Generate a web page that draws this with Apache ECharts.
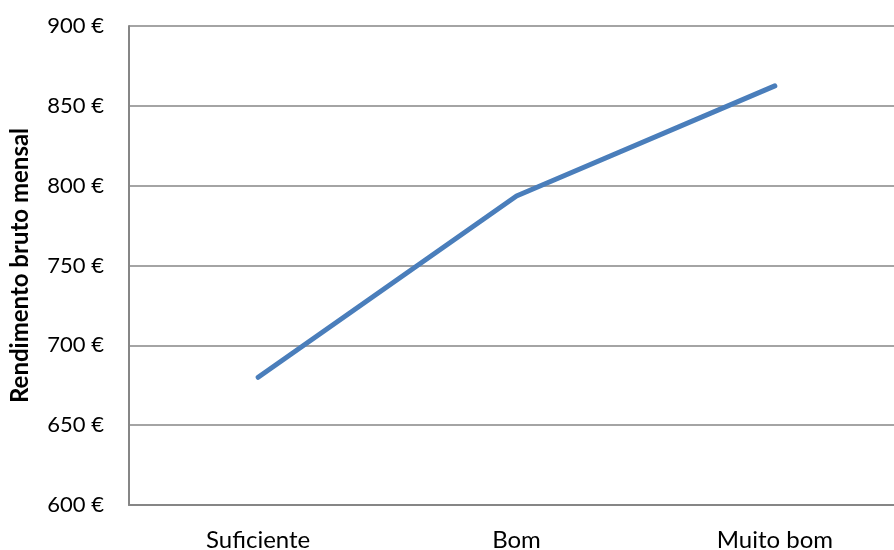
<!DOCTYPE html>
<html><head><meta charset="utf-8">
<script src="https://cdn.jsdelivr.net/npm/echarts@6/dist/echarts.min.js"></script>
<style>html,body{margin:0;padding:0;background:#fff}#c{width:894px;height:550px}</style>
</head><body><div id="c"></div>
<script>
const categories = ["Suficiente", "Bom", "Muito bom"];
const values = [680, 793.5, 862.5];
const yTicks = [600, 650, 700, 750, 800, 850, 900];
const yAxisTitle = "Rendimento bruto mensal";

const chart = echarts.init(document.getElementById('c'), null, {renderer: 'canvas'});
chart.setOption({
  animation: false,
  grid: {left: 129, top: 26, width: 775, height: 479, containLabel: false, outerBoundsMode: 'none'},
  xAxis: {
    type: 'category', data: categories, boundaryGap: true,
    axisLine: {lineStyle: {color: '#868686', width: 2}},
    axisTick: {show: false},
    axisLabel: {color: '#000', fontFamily: 'Lato', fontSize: 24, margin: 23}
  },
  yAxis: {
    type: 'value', min: yTicks[0], max: yTicks[yTicks.length - 1], interval: 50,
    name: yAxisTitle, nameLocation: 'middle', nameRotate: 90, nameGap: 97,
    nameTextStyle: {color: '#000', fontFamily: 'Lato', fontWeight: 'bold', fontSize: 24},
    axisLine: {show: true, lineStyle: {color: '#868686', width: 2}},
    axisTick: {show: false},
    splitLine: {lineStyle: {color: '#868686', width: 1.5}},
    axisLabel: {color: '#000', fontFamily: 'Lato', fontSize: 22, margin: 25,
      formatter: v => v + ' €'}
  },
  series: [{
    type: 'line', data: values, symbol: 'none',
    lineStyle: {color: '#4a7ebb', width: 5, cap: 'round', join: 'round'}
  }]
});
</script></body></html>
